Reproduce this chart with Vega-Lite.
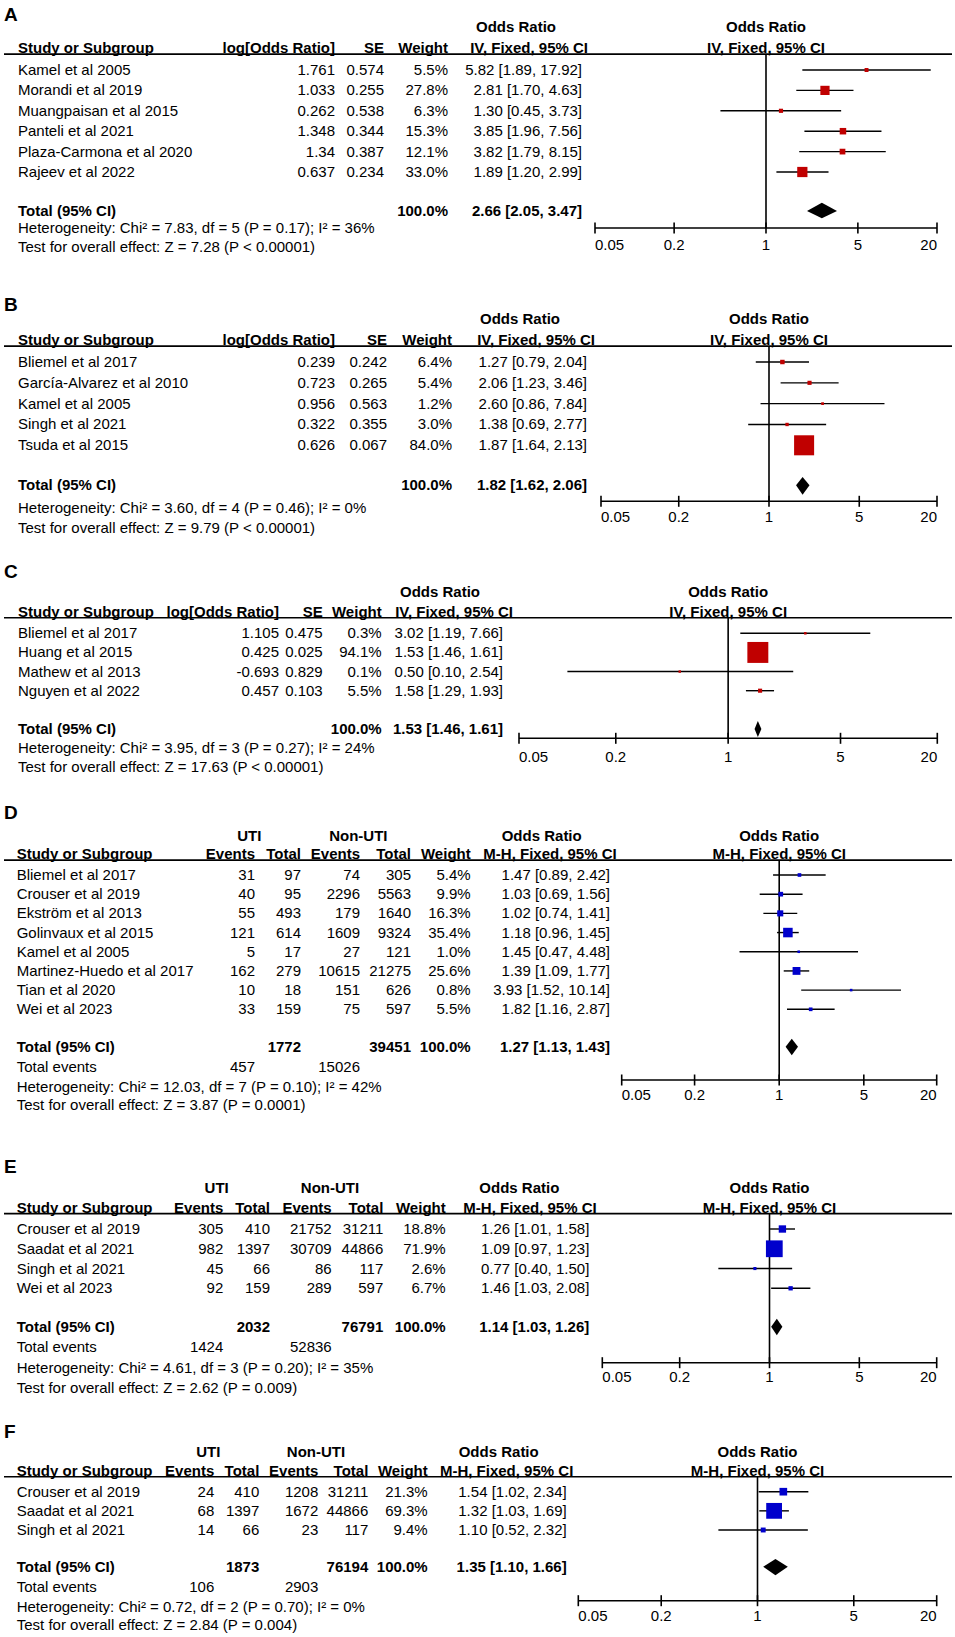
{
"$schema": "https://vega.github.io/schema/vega-lite/v6.json",
"padding": 0,
"spacing": 0,
"bounds": "flush",
"background": "white",
"config": {"view": {"stroke": null}, "mark": {"color": "#000"}, "rule": {"color": "#000"}, "area": {"color": "#000"}, "text": {"font": "Liberation Sans", "fontSize": 15, "baseline": "middle", "color": "#000"}},
"resolve": {"scale": {"size": "independent"}},
"datasets": {
"ticks": [{"v":0.05,"l":"0.05"},{"v":0.2,"l":"0.2"},{"v":1,"l":"1"},{"v":5,"l":"5"},{"v":20,"l":"20"}],
"fhead": [
{"p":"A","r":-1,"t":"Odds Ratio"},{"p":"A","r":0,"t":"IV, Fixed, 95% CI"},
{"p":"B","r":-1,"t":"Odds Ratio"},{"p":"B","r":0,"t":"IV, Fixed, 95% CI"},
{"p":"C","r":-1,"t":"Odds Ratio"},{"p":"C","r":0,"t":"IV, Fixed, 95% CI"},
{"p":"D","r":-1,"t":"Odds Ratio"},{"p":"D","r":0,"t":"M-H, Fixed, 95% CI"},
{"p":"E","r":-1,"t":"Odds Ratio"},{"p":"E","r":0,"t":"M-H, Fixed, 95% CI"},
{"p":"F","r":-1,"t":"Odds Ratio"},{"p":"F","r":0,"t":"M-H, Fixed, 95% CI"}
],
"studies": [
{"p":"A","r":1,"or":5.82,"lo":1.89,"hi":17.92,"w":5.5},
{"p":"A","r":2,"or":2.81,"lo":1.70,"hi":4.63,"w":27.8},
{"p":"A","r":3,"or":1.30,"lo":0.45,"hi":3.73,"w":6.3},
{"p":"A","r":4,"or":3.85,"lo":1.96,"hi":7.56,"w":15.3},
{"p":"A","r":5,"or":3.82,"lo":1.79,"hi":8.15,"w":12.1},
{"p":"A","r":6,"or":1.89,"lo":1.20,"hi":2.99,"w":33.0},
{"p":"B","r":1,"or":1.27,"lo":0.79,"hi":2.04,"w":6.4},
{"p":"B","r":2,"or":2.06,"lo":1.23,"hi":3.46,"w":5.4},
{"p":"B","r":3,"or":2.60,"lo":0.86,"hi":7.84,"w":1.2},
{"p":"B","r":4,"or":1.38,"lo":0.69,"hi":2.77,"w":3.0},
{"p":"B","r":5,"or":1.87,"lo":1.64,"hi":2.13,"w":84.0},
{"p":"C","r":1,"or":3.02,"lo":1.19,"hi":7.66,"w":0.3},
{"p":"C","r":2,"or":1.53,"lo":1.46,"hi":1.61,"w":94.1},
{"p":"C","r":3,"or":0.50,"lo":0.10,"hi":2.54,"w":0.1},
{"p":"C","r":4,"or":1.58,"lo":1.29,"hi":1.93,"w":5.5},
{"p":"D","r":1,"or":1.47,"lo":0.89,"hi":2.42,"w":5.4},
{"p":"D","r":2,"or":1.03,"lo":0.69,"hi":1.56,"w":9.9},
{"p":"D","r":3,"or":1.02,"lo":0.74,"hi":1.41,"w":16.3},
{"p":"D","r":4,"or":1.18,"lo":0.96,"hi":1.45,"w":35.4},
{"p":"D","r":5,"or":1.45,"lo":0.47,"hi":4.48,"w":1.0},
{"p":"D","r":6,"or":1.39,"lo":1.09,"hi":1.77,"w":25.6},
{"p":"D","r":7,"or":3.93,"lo":1.52,"hi":10.14,"w":0.8},
{"p":"D","r":8,"or":1.82,"lo":1.16,"hi":2.87,"w":5.5},
{"p":"E","r":1,"or":1.26,"lo":1.01,"hi":1.58,"w":18.8},
{"p":"E","r":2,"or":1.09,"lo":0.97,"hi":1.23,"w":71.9},
{"p":"E","r":3,"or":0.77,"lo":0.40,"hi":1.50,"w":2.6},
{"p":"E","r":4,"or":1.46,"lo":1.03,"hi":2.08,"w":6.7},
{"p":"F","r":1,"or":1.54,"lo":1.02,"hi":2.34,"w":21.3},
{"p":"F","r":2,"or":1.32,"lo":1.03,"hi":1.69,"w":69.3},
{"p":"F","r":3,"or":1.10,"lo":0.52,"hi":2.32,"w":9.4}
],
"totals": [
{"p":"A","r":8,"or":2.66,"lo":2.05,"hi":3.47},
{"p":"B","r":7,"or":1.82,"lo":1.62,"hi":2.06},
{"p":"C","r":6,"or":1.53,"lo":1.46,"hi":1.61},
{"p":"D","r":10,"or":1.27,"lo":1.13,"hi":1.43},
{"p":"E","r":6,"or":1.14,"lo":1.03,"hi":1.26},
{"p":"F","r":5,"or":1.35,"lo":1.10,"hi":1.66}
],
"cells": [
{"p":"A","r":-2,"c":-1,"t":"A","s":"letter"},
{"p":"A","r":-1,"c":4,"t":"Odds Ratio","s":"h"},
{"p":"A","r":0,"c":0,"t":"Study or Subgroup","s":"h"},
{"p":"A","r":0,"c":1,"t":"log[Odds Ratio]","s":"h"},
{"p":"A","r":0,"c":2,"t":"SE","s":"h"},
{"p":"A","r":0,"c":3,"t":"Weight","s":"h"},
{"p":"A","r":0,"c":6,"t":"IV, Fixed, 95% CI","s":"h"},
{"p":"A","r":1,"c":0,"t":"Kamel et al 2005","s":"d"},
{"p":"A","r":1,"c":1,"t":"1.761","s":"d"},
{"p":"A","r":1,"c":2,"t":"0.574","s":"d"},
{"p":"A","r":1,"c":3,"t":"5.5%","s":"d"},
{"p":"A","r":1,"c":5,"t":"5.82 [1.89, 17.92]","s":"d"},
{"p":"A","r":2,"c":0,"t":"Morandi et al 2019","s":"d"},
{"p":"A","r":2,"c":1,"t":"1.033","s":"d"},
{"p":"A","r":2,"c":2,"t":"0.255","s":"d"},
{"p":"A","r":2,"c":3,"t":"27.8%","s":"d"},
{"p":"A","r":2,"c":5,"t":"2.81 [1.70, 4.63]","s":"d"},
{"p":"A","r":3,"c":0,"t":"Muangpaisan et al 2015","s":"d"},
{"p":"A","r":3,"c":1,"t":"0.262","s":"d"},
{"p":"A","r":3,"c":2,"t":"0.538","s":"d"},
{"p":"A","r":3,"c":3,"t":"6.3%","s":"d"},
{"p":"A","r":3,"c":5,"t":"1.30 [0.45, 3.73]","s":"d"},
{"p":"A","r":4,"c":0,"t":"Panteli et al 2021","s":"d"},
{"p":"A","r":4,"c":1,"t":"1.348","s":"d"},
{"p":"A","r":4,"c":2,"t":"0.344","s":"d"},
{"p":"A","r":4,"c":3,"t":"15.3%","s":"d"},
{"p":"A","r":4,"c":5,"t":"3.85 [1.96, 7.56]","s":"d"},
{"p":"A","r":5,"c":0,"t":"Plaza-Carmona et al 2020","s":"d"},
{"p":"A","r":5,"c":1,"t":"1.34","s":"d"},
{"p":"A","r":5,"c":2,"t":"0.387","s":"d"},
{"p":"A","r":5,"c":3,"t":"12.1%","s":"d"},
{"p":"A","r":5,"c":5,"t":"3.82 [1.79, 8.15]","s":"d"},
{"p":"A","r":6,"c":0,"t":"Rajeev et al 2022","s":"d"},
{"p":"A","r":6,"c":1,"t":"0.637","s":"d"},
{"p":"A","r":6,"c":2,"t":"0.234","s":"d"},
{"p":"A","r":6,"c":3,"t":"33.0%","s":"d"},
{"p":"A","r":6,"c":5,"t":"1.89 [1.20, 2.99]","s":"d"},
{"p":"A","r":8,"c":0,"t":"Total (95% CI)","s":"t"},
{"p":"A","r":8,"c":3,"t":"100.0%","s":"t"},
{"p":"A","r":8,"c":5,"t":"2.66 [2.05, 3.47]","s":"t"},
{"p":"A","r":9,"c":0,"t":"Heterogeneity: Chi² = 7.83, df = 5 (P = 0.17); I² = 36%","s":"f"},
{"p":"A","r":10,"c":0,"t":"Test for overall effect: Z = 7.28 (P < 0.00001)","s":"f"},
{"p":"B","r":-2,"c":-1,"t":"B","s":"letter"},
{"p":"B","r":-1,"c":4,"t":"Odds Ratio","s":"h"},
{"p":"B","r":0,"c":0,"t":"Study or Subgroup","s":"h"},
{"p":"B","r":0,"c":1,"t":"log[Odds Ratio]","s":"h"},
{"p":"B","r":0,"c":2,"t":"SE","s":"h"},
{"p":"B","r":0,"c":3,"t":"Weight","s":"h"},
{"p":"B","r":0,"c":6,"t":"IV, Fixed, 95% CI","s":"h"},
{"p":"B","r":1,"c":0,"t":"Bliemel et al 2017","s":"d"},
{"p":"B","r":1,"c":1,"t":"0.239","s":"d"},
{"p":"B","r":1,"c":2,"t":"0.242","s":"d"},
{"p":"B","r":1,"c":3,"t":"6.4%","s":"d"},
{"p":"B","r":1,"c":5,"t":"1.27 [0.79, 2.04]","s":"d"},
{"p":"B","r":2,"c":0,"t":"García-Alvarez et al 2010","s":"d"},
{"p":"B","r":2,"c":1,"t":"0.723","s":"d"},
{"p":"B","r":2,"c":2,"t":"0.265","s":"d"},
{"p":"B","r":2,"c":3,"t":"5.4%","s":"d"},
{"p":"B","r":2,"c":5,"t":"2.06 [1.23, 3.46]","s":"d"},
{"p":"B","r":3,"c":0,"t":"Kamel et al 2005","s":"d"},
{"p":"B","r":3,"c":1,"t":"0.956","s":"d"},
{"p":"B","r":3,"c":2,"t":"0.563","s":"d"},
{"p":"B","r":3,"c":3,"t":"1.2%","s":"d"},
{"p":"B","r":3,"c":5,"t":"2.60 [0.86, 7.84]","s":"d"},
{"p":"B","r":4,"c":0,"t":"Singh et al 2021","s":"d"},
{"p":"B","r":4,"c":1,"t":"0.322","s":"d"},
{"p":"B","r":4,"c":2,"t":"0.355","s":"d"},
{"p":"B","r":4,"c":3,"t":"3.0%","s":"d"},
{"p":"B","r":4,"c":5,"t":"1.38 [0.69, 2.77]","s":"d"},
{"p":"B","r":5,"c":0,"t":"Tsuda et al 2015","s":"d"},
{"p":"B","r":5,"c":1,"t":"0.626","s":"d"},
{"p":"B","r":5,"c":2,"t":"0.067","s":"d"},
{"p":"B","r":5,"c":3,"t":"84.0%","s":"d"},
{"p":"B","r":5,"c":5,"t":"1.87 [1.64, 2.13]","s":"d"},
{"p":"B","r":7,"c":0,"t":"Total (95% CI)","s":"t"},
{"p":"B","r":7,"c":3,"t":"100.0%","s":"t"},
{"p":"B","r":7,"c":5,"t":"1.82 [1.62, 2.06]","s":"t"},
{"p":"B","r":8,"c":0,"t":"Heterogeneity: Chi² = 3.60, df = 4 (P = 0.46); I² = 0%","s":"f"},
{"p":"B","r":9,"c":0,"t":"Test for overall effect: Z = 9.79 (P < 0.00001)","s":"f"},
{"p":"C","r":-2,"c":-1,"t":"C","s":"letter"},
{"p":"C","r":-1,"c":4,"t":"Odds Ratio","s":"h"},
{"p":"C","r":0,"c":0,"t":"Study or Subgroup","s":"h"},
{"p":"C","r":0,"c":1,"t":"log[Odds Ratio]","s":"h"},
{"p":"C","r":0,"c":2,"t":"SE","s":"h"},
{"p":"C","r":0,"c":3,"t":"Weight","s":"h"},
{"p":"C","r":0,"c":6,"t":"IV, Fixed, 95% CI","s":"h"},
{"p":"C","r":1,"c":0,"t":"Bliemel et al 2017","s":"d"},
{"p":"C","r":1,"c":1,"t":"1.105","s":"d"},
{"p":"C","r":1,"c":2,"t":"0.475","s":"d"},
{"p":"C","r":1,"c":3,"t":"0.3%","s":"d"},
{"p":"C","r":1,"c":5,"t":"3.02 [1.19, 7.66]","s":"d"},
{"p":"C","r":2,"c":0,"t":"Huang et al 2015","s":"d"},
{"p":"C","r":2,"c":1,"t":"0.425","s":"d"},
{"p":"C","r":2,"c":2,"t":"0.025","s":"d"},
{"p":"C","r":2,"c":3,"t":"94.1%","s":"d"},
{"p":"C","r":2,"c":5,"t":"1.53 [1.46, 1.61]","s":"d"},
{"p":"C","r":3,"c":0,"t":"Mathew et al 2013","s":"d"},
{"p":"C","r":3,"c":1,"t":"-0.693","s":"d"},
{"p":"C","r":3,"c":2,"t":"0.829","s":"d"},
{"p":"C","r":3,"c":3,"t":"0.1%","s":"d"},
{"p":"C","r":3,"c":5,"t":"0.50 [0.10, 2.54]","s":"d"},
{"p":"C","r":4,"c":0,"t":"Nguyen et al 2022","s":"d"},
{"p":"C","r":4,"c":1,"t":"0.457","s":"d"},
{"p":"C","r":4,"c":2,"t":"0.103","s":"d"},
{"p":"C","r":4,"c":3,"t":"5.5%","s":"d"},
{"p":"C","r":4,"c":5,"t":"1.58 [1.29, 1.93]","s":"d"},
{"p":"C","r":6,"c":0,"t":"Total (95% CI)","s":"t"},
{"p":"C","r":6,"c":3,"t":"100.0%","s":"t"},
{"p":"C","r":6,"c":5,"t":"1.53 [1.46, 1.61]","s":"t"},
{"p":"C","r":7,"c":0,"t":"Heterogeneity: Chi² = 3.95, df = 3 (P = 0.27); I² = 24%","s":"f"},
{"p":"C","r":8,"c":0,"t":"Test for overall effect: Z = 17.63 (P < 0.00001)","s":"f"},
{"p":"D","r":-2,"c":-1,"t":"D","s":"letter"},
{"p":"D","r":-1,"c":1,"t":"UTI","s":"h"},
{"p":"D","r":-1,"c":4,"t":"Non-UTI","s":"h"},
{"p":"D","r":-1,"c":8,"t":"Odds Ratio","s":"h"},
{"p":"D","r":0,"c":0,"t":"Study or Subgroup","s":"h"},
{"p":"D","r":0,"c":2,"t":"Events","s":"h"},
{"p":"D","r":0,"c":3,"t":"Total","s":"h"},
{"p":"D","r":0,"c":5,"t":"Events","s":"h"},
{"p":"D","r":0,"c":6,"t":"Total","s":"h"},
{"p":"D","r":0,"c":7,"t":"Weight","s":"h"},
{"p":"D","r":0,"c":10,"t":"M-H, Fixed, 95% CI","s":"h"},
{"p":"D","r":1,"c":0,"t":"Bliemel et al 2017","s":"d"},
{"p":"D","r":1,"c":2,"t":"31","s":"d"},
{"p":"D","r":1,"c":3,"t":"97","s":"d"},
{"p":"D","r":1,"c":5,"t":"74","s":"d"},
{"p":"D","r":1,"c":6,"t":"305","s":"d"},
{"p":"D","r":1,"c":7,"t":"5.4%","s":"d"},
{"p":"D","r":1,"c":9,"t":"1.47 [0.89, 2.42]","s":"d"},
{"p":"D","r":2,"c":0,"t":"Crouser et al 2019","s":"d"},
{"p":"D","r":2,"c":2,"t":"40","s":"d"},
{"p":"D","r":2,"c":3,"t":"95","s":"d"},
{"p":"D","r":2,"c":5,"t":"2296","s":"d"},
{"p":"D","r":2,"c":6,"t":"5563","s":"d"},
{"p":"D","r":2,"c":7,"t":"9.9%","s":"d"},
{"p":"D","r":2,"c":9,"t":"1.03 [0.69, 1.56]","s":"d"},
{"p":"D","r":3,"c":0,"t":"Ekström et al 2013","s":"d"},
{"p":"D","r":3,"c":2,"t":"55","s":"d"},
{"p":"D","r":3,"c":3,"t":"493","s":"d"},
{"p":"D","r":3,"c":5,"t":"179","s":"d"},
{"p":"D","r":3,"c":6,"t":"1640","s":"d"},
{"p":"D","r":3,"c":7,"t":"16.3%","s":"d"},
{"p":"D","r":3,"c":9,"t":"1.02 [0.74, 1.41]","s":"d"},
{"p":"D","r":4,"c":0,"t":"Golinvaux et al 2015","s":"d"},
{"p":"D","r":4,"c":2,"t":"121","s":"d"},
{"p":"D","r":4,"c":3,"t":"614","s":"d"},
{"p":"D","r":4,"c":5,"t":"1609","s":"d"},
{"p":"D","r":4,"c":6,"t":"9324","s":"d"},
{"p":"D","r":4,"c":7,"t":"35.4%","s":"d"},
{"p":"D","r":4,"c":9,"t":"1.18 [0.96, 1.45]","s":"d"},
{"p":"D","r":5,"c":0,"t":"Kamel et al 2005","s":"d"},
{"p":"D","r":5,"c":2,"t":"5","s":"d"},
{"p":"D","r":5,"c":3,"t":"17","s":"d"},
{"p":"D","r":5,"c":5,"t":"27","s":"d"},
{"p":"D","r":5,"c":6,"t":"121","s":"d"},
{"p":"D","r":5,"c":7,"t":"1.0%","s":"d"},
{"p":"D","r":5,"c":9,"t":"1.45 [0.47, 4.48]","s":"d"},
{"p":"D","r":6,"c":0,"t":"Martinez-Huedo et al 2017","s":"d"},
{"p":"D","r":6,"c":2,"t":"162","s":"d"},
{"p":"D","r":6,"c":3,"t":"279","s":"d"},
{"p":"D","r":6,"c":5,"t":"10615","s":"d"},
{"p":"D","r":6,"c":6,"t":"21275","s":"d"},
{"p":"D","r":6,"c":7,"t":"25.6%","s":"d"},
{"p":"D","r":6,"c":9,"t":"1.39 [1.09, 1.77]","s":"d"},
{"p":"D","r":7,"c":0,"t":"Tian et al 2020","s":"d"},
{"p":"D","r":7,"c":2,"t":"10","s":"d"},
{"p":"D","r":7,"c":3,"t":"18","s":"d"},
{"p":"D","r":7,"c":5,"t":"151","s":"d"},
{"p":"D","r":7,"c":6,"t":"626","s":"d"},
{"p":"D","r":7,"c":7,"t":"0.8%","s":"d"},
{"p":"D","r":7,"c":9,"t":"3.93 [1.52, 10.14]","s":"d"},
{"p":"D","r":8,"c":0,"t":"Wei et al 2023","s":"d"},
{"p":"D","r":8,"c":2,"t":"33","s":"d"},
{"p":"D","r":8,"c":3,"t":"159","s":"d"},
{"p":"D","r":8,"c":5,"t":"75","s":"d"},
{"p":"D","r":8,"c":6,"t":"597","s":"d"},
{"p":"D","r":8,"c":7,"t":"5.5%","s":"d"},
{"p":"D","r":8,"c":9,"t":"1.82 [1.16, 2.87]","s":"d"},
{"p":"D","r":10,"c":0,"t":"Total (95% CI)","s":"t"},
{"p":"D","r":10,"c":3,"t":"1772","s":"t"},
{"p":"D","r":10,"c":6,"t":"39451","s":"t"},
{"p":"D","r":10,"c":7,"t":"100.0%","s":"t"},
{"p":"D","r":10,"c":9,"t":"1.27 [1.13, 1.43]","s":"t"},
{"p":"D","r":11,"c":0,"t":"Total events","s":"f"},
{"p":"D","r":11,"c":2,"t":"457","s":"f"},
{"p":"D","r":11,"c":5,"t":"15026","s":"f"},
{"p":"D","r":12,"c":0,"t":"Heterogeneity: Chi² = 12.03, df = 7 (P = 0.10); I² = 42%","s":"f"},
{"p":"D","r":13,"c":0,"t":"Test for overall effect: Z = 3.87 (P = 0.0001)","s":"f"},
{"p":"E","r":-2,"c":-1,"t":"E","s":"letter"},
{"p":"E","r":-1,"c":1,"t":"UTI","s":"h"},
{"p":"E","r":-1,"c":4,"t":"Non-UTI","s":"h"},
{"p":"E","r":-1,"c":8,"t":"Odds Ratio","s":"h"},
{"p":"E","r":0,"c":0,"t":"Study or Subgroup","s":"h"},
{"p":"E","r":0,"c":2,"t":"Events","s":"h"},
{"p":"E","r":0,"c":3,"t":"Total","s":"h"},
{"p":"E","r":0,"c":5,"t":"Events","s":"h"},
{"p":"E","r":0,"c":6,"t":"Total","s":"h"},
{"p":"E","r":0,"c":7,"t":"Weight","s":"h"},
{"p":"E","r":0,"c":10,"t":"M-H, Fixed, 95% CI","s":"h"},
{"p":"E","r":1,"c":0,"t":"Crouser et al 2019","s":"d"},
{"p":"E","r":1,"c":2,"t":"305","s":"d"},
{"p":"E","r":1,"c":3,"t":"410","s":"d"},
{"p":"E","r":1,"c":5,"t":"21752","s":"d"},
{"p":"E","r":1,"c":6,"t":"31211","s":"d"},
{"p":"E","r":1,"c":7,"t":"18.8%","s":"d"},
{"p":"E","r":1,"c":9,"t":"1.26 [1.01, 1.58]","s":"d"},
{"p":"E","r":2,"c":0,"t":"Saadat et al 2021","s":"d"},
{"p":"E","r":2,"c":2,"t":"982","s":"d"},
{"p":"E","r":2,"c":3,"t":"1397","s":"d"},
{"p":"E","r":2,"c":5,"t":"30709","s":"d"},
{"p":"E","r":2,"c":6,"t":"44866","s":"d"},
{"p":"E","r":2,"c":7,"t":"71.9%","s":"d"},
{"p":"E","r":2,"c":9,"t":"1.09 [0.97, 1.23]","s":"d"},
{"p":"E","r":3,"c":0,"t":"Singh et al 2021","s":"d"},
{"p":"E","r":3,"c":2,"t":"45","s":"d"},
{"p":"E","r":3,"c":3,"t":"66","s":"d"},
{"p":"E","r":3,"c":5,"t":"86","s":"d"},
{"p":"E","r":3,"c":6,"t":"117","s":"d"},
{"p":"E","r":3,"c":7,"t":"2.6%","s":"d"},
{"p":"E","r":3,"c":9,"t":"0.77 [0.40, 1.50]","s":"d"},
{"p":"E","r":4,"c":0,"t":"Wei et al 2023","s":"d"},
{"p":"E","r":4,"c":2,"t":"92","s":"d"},
{"p":"E","r":4,"c":3,"t":"159","s":"d"},
{"p":"E","r":4,"c":5,"t":"289","s":"d"},
{"p":"E","r":4,"c":6,"t":"597","s":"d"},
{"p":"E","r":4,"c":7,"t":"6.7%","s":"d"},
{"p":"E","r":4,"c":9,"t":"1.46 [1.03, 2.08]","s":"d"},
{"p":"E","r":6,"c":0,"t":"Total (95% CI)","s":"t"},
{"p":"E","r":6,"c":3,"t":"2032","s":"t"},
{"p":"E","r":6,"c":6,"t":"76791","s":"t"},
{"p":"E","r":6,"c":7,"t":"100.0%","s":"t"},
{"p":"E","r":6,"c":9,"t":"1.14 [1.03, 1.26]","s":"t"},
{"p":"E","r":7,"c":0,"t":"Total events","s":"f"},
{"p":"E","r":7,"c":2,"t":"1424","s":"f"},
{"p":"E","r":7,"c":5,"t":"52836","s":"f"},
{"p":"E","r":8,"c":0,"t":"Heterogeneity: Chi² = 4.61, df = 3 (P = 0.20); I² = 35%","s":"f"},
{"p":"E","r":9,"c":0,"t":"Test for overall effect: Z = 2.62 (P = 0.009)","s":"f"},
{"p":"F","r":-2,"c":-1,"t":"F","s":"letter"},
{"p":"F","r":-1,"c":1,"t":"UTI","s":"h"},
{"p":"F","r":-1,"c":4,"t":"Non-UTI","s":"h"},
{"p":"F","r":-1,"c":8,"t":"Odds Ratio","s":"h"},
{"p":"F","r":0,"c":0,"t":"Study or Subgroup","s":"h"},
{"p":"F","r":0,"c":2,"t":"Events","s":"h"},
{"p":"F","r":0,"c":3,"t":"Total","s":"h"},
{"p":"F","r":0,"c":5,"t":"Events","s":"h"},
{"p":"F","r":0,"c":6,"t":"Total","s":"h"},
{"p":"F","r":0,"c":7,"t":"Weight","s":"h"},
{"p":"F","r":0,"c":10,"t":"M-H, Fixed, 95% CI","s":"h"},
{"p":"F","r":1,"c":0,"t":"Crouser et al 2019","s":"d"},
{"p":"F","r":1,"c":2,"t":"24","s":"d"},
{"p":"F","r":1,"c":3,"t":"410","s":"d"},
{"p":"F","r":1,"c":5,"t":"1208","s":"d"},
{"p":"F","r":1,"c":6,"t":"31211","s":"d"},
{"p":"F","r":1,"c":7,"t":"21.3%","s":"d"},
{"p":"F","r":1,"c":9,"t":"1.54 [1.02, 2.34]","s":"d"},
{"p":"F","r":2,"c":0,"t":"Saadat et al 2021","s":"d"},
{"p":"F","r":2,"c":2,"t":"68","s":"d"},
{"p":"F","r":2,"c":3,"t":"1397","s":"d"},
{"p":"F","r":2,"c":5,"t":"1672","s":"d"},
{"p":"F","r":2,"c":6,"t":"44866","s":"d"},
{"p":"F","r":2,"c":7,"t":"69.3%","s":"d"},
{"p":"F","r":2,"c":9,"t":"1.32 [1.03, 1.69]","s":"d"},
{"p":"F","r":3,"c":0,"t":"Singh et al 2021","s":"d"},
{"p":"F","r":3,"c":2,"t":"14","s":"d"},
{"p":"F","r":3,"c":3,"t":"66","s":"d"},
{"p":"F","r":3,"c":5,"t":"23","s":"d"},
{"p":"F","r":3,"c":6,"t":"117","s":"d"},
{"p":"F","r":3,"c":7,"t":"9.4%","s":"d"},
{"p":"F","r":3,"c":9,"t":"1.10 [0.52, 2.32]","s":"d"},
{"p":"F","r":5,"c":0,"t":"Total (95% CI)","s":"t"},
{"p":"F","r":5,"c":3,"t":"1873","s":"t"},
{"p":"F","r":5,"c":6,"t":"76194","s":"t"},
{"p":"F","r":5,"c":7,"t":"100.0%","s":"t"},
{"p":"F","r":5,"c":9,"t":"1.35 [1.10, 1.66]","s":"t"},
{"p":"F","r":6,"c":0,"t":"Total events","s":"f"},
{"p":"F","r":6,"c":2,"t":"106","s":"f"},
{"p":"F","r":6,"c":5,"t":"2903","s":"f"},
{"p":"F","r":7,"c":0,"t":"Heterogeneity: Chi² = 0.72, df = 2 (P = 0.70); I² = 0%","s":"f"},
{"p":"F","r":8,"c":0,"t":"Test for overall effect: Z = 2.84 (P = 0.004)","s":"f"}
]
},
"vconcat": [
{
"width": 955, "height": 262,
"resolve": {"scale": {"x": "independent"}},
"layer": [
{"data": {"name": "cells"}, "transform": [{"filter": "datum.p=='A'"}],
 "encoding": {"x": {"field": "c", "type": "quantitative", "axis": null, "scale": {"domain": [-1,0,1,2,3,4,5,6,7], "range": [4,18,335,384,448,516,582,588,952], "zero": false, "nice": false}}, "y": {"field": "r", "type": "quantitative", "axis": null, "scale": {"domain": [-2,-1,0,1,6,8,9,10,50,51], "range": [15,27,48,70,172,211,228,247,228,245], "zero": false, "nice": false}}, "text": {"field": "t"}},
 "layer": [
  {"transform": [{"filter": "datum.s=='letter'"}], "mark": {"type": "text", "align": "left", "fontWeight": "bold", "fontSize": 19}},
  {"transform": [{"filter": "datum.c==0 && (datum.s=='d' || datum.s=='f')"}], "mark": {"type": "text", "align": "left"}},
  {"transform": [{"filter": "datum.c==0 && (datum.s=='h' || datum.s=='t')"}], "mark": {"type": "text", "align": "left", "fontWeight": "bold"}},
  {"transform": [{"filter": "datum.c>0 && datum.c!=4 && (datum.s=='d' || datum.s=='f')"}], "mark": {"type": "text", "align": "right"}},
  {"transform": [{"filter": "datum.c>0 && datum.c!=4 && (datum.s=='h' || datum.s=='t')"}], "mark": {"type": "text", "align": "right", "fontWeight": "bold"}},
  {"transform": [{"filter": "datum.c==4"}], "mark": {"type": "text", "align": "center", "fontWeight": "bold"}}
 ]},
{"data": {"values": [{}]}, "mark": {"type": "rule", "strokeWidth": 1.6}, "encoding": {"x": {"datum": -1, "type": "quantitative", "axis": null, "scale": {"domain": [-1,0,1,2,3,4,5,6,7], "range": [4,18,335,384,448,516,582,588,952], "zero": false, "nice": false}}, "x2": {"datum": 7}, "y": {"datum": 0.28, "type": "quantitative", "axis": null}}},
{"layer": [
  {"data": {"values": [{}]}, "mark": {"type": "rule", "strokeWidth": 1.6}, "encoding": {"x": {"datum": 1, "type": "quantitative", "axis": null, "scale": {"type": "log", "domain": [0.05, 20], "range": [595, 937], "nice": false}}, "y": {"datum": 0.28, "type": "quantitative", "axis": null}, "y2": {"datum": 50}}},
  {"data": {"name": "studies"}, "transform": [{"filter": "datum.p=='A'"}], "mark": {"type": "rule", "strokeWidth": 1.4}, "encoding": {"x": {"field": "lo", "type": "quantitative", "axis": null, "scale": {"type": "log", "domain": [0.05, 20], "range": [595, 937], "nice": false}}, "x2": {"field": "hi"}, "y": {"field": "r", "type": "quantitative", "axis": null}}},
  {"data": {"name": "studies"}, "transform": [{"filter": "datum.p=='A'"}], "mark": {"type": "point", "shape": "square", "filled": true, "opacity": 1, "color": "#c00000"}, "encoding": {"x": {"field": "or", "type": "quantitative", "axis": null, "scale": {"type": "log", "domain": [0.05, 20], "range": [595, 937], "nice": false}}, "y": {"field": "r", "type": "quantitative", "axis": null}, "size": {"field": "w", "type": "quantitative", "legend": null, "scale": {"type": "pow", "exponent": 1.3, "domain": [0, 100], "range": [6, 423]}}}},
  {"data": {"name": "totals"}, "transform": [{"filter": "datum.p=='A'"}, {"fold": ["lo", "or", "hi"]}, {"calculate": "datum.r - (datum.key=='or' ? 0.42 : 0)", "as": "ya"}, {"calculate": "datum.r + (datum.key=='or' ? 0.42 : 0)", "as": "yb"}], "mark": {"type": "area", "opacity": 1}, "encoding": {"x": {"field": "value", "type": "quantitative", "axis": null, "scale": {"type": "log", "domain": [0.05, 20], "range": [595, 937], "nice": false}}, "y": {"field": "ya", "type": "quantitative", "axis": null}, "y2": {"field": "yb"}}},
  {"data": {"values": [{}]}, "mark": {"type": "rule", "strokeWidth": 1.6}, "encoding": {"x": {"datum": 0.05, "type": "quantitative", "axis": null, "scale": {"type": "log", "domain": [0.05, 20], "range": [595, 937], "nice": false}}, "x2": {"datum": 20}, "y": {"datum": 50, "type": "quantitative", "axis": null}}},
  {"data": {"name": "ticks"}, "mark": {"type": "tick", "orient": "vertical", "size": 11, "thickness": 1.6, "opacity": 1}, "encoding": {"x": {"field": "v", "type": "quantitative", "axis": null, "scale": {"type": "log", "domain": [0.05, 20], "range": [595, 937], "nice": false}}, "y": {"datum": 50, "type": "quantitative", "axis": null}}},
  {"data": {"name": "ticks"}, "transform": [{"filter": "datum.v==0.05"}], "mark": {"type": "text", "align": "left"}, "encoding": {"x": {"field": "v", "type": "quantitative", "axis": null, "scale": {"type": "log", "domain": [0.05, 20], "range": [595, 937], "nice": false}}, "y": {"datum": 51, "type": "quantitative", "axis": null}, "text": {"field": "l"}}},
  {"data": {"name": "ticks"}, "transform": [{"filter": "datum.v>0.05 && datum.v<20"}], "mark": {"type": "text", "align": "center"}, "encoding": {"x": {"field": "v", "type": "quantitative", "axis": null, "scale": {"type": "log", "domain": [0.05, 20], "range": [595, 937], "nice": false}}, "y": {"datum": 51, "type": "quantitative", "axis": null}, "text": {"field": "l"}}},
  {"data": {"name": "ticks"}, "transform": [{"filter": "datum.v==20"}], "mark": {"type": "text", "align": "right"}, "encoding": {"x": {"field": "v", "type": "quantitative", "axis": null, "scale": {"type": "log", "domain": [0.05, 20], "range": [595, 937], "nice": false}}, "y": {"datum": 51, "type": "quantitative", "axis": null}, "text": {"field": "l"}}},
  {"data": {"name": "fhead"}, "transform": [{"filter": "datum.p=='A'"}], "mark": {"type": "text", "align": "center", "fontWeight": "bold"}, "encoding": {"x": {"datum": 1, "type": "quantitative", "axis": null, "scale": {"type": "log", "domain": [0.05, 20], "range": [595, 937], "nice": false}}, "y": {"field": "r", "type": "quantitative", "axis": null}, "text": {"field": "t"}}}
 ]}
]
},
{
"width": 955, "height": 275,
"resolve": {"scale": {"x": "independent"}},
"layer": [
{"data": {"name": "cells"}, "transform": [{"filter": "datum.p=='B'"}],
 "encoding": {"x": {"field": "c", "type": "quantitative", "axis": null, "scale": {"domain": [-1,0,1,2,3,4,5,6,7], "range": [4,18,335,387,452,520,587,595,952], "zero": false, "nice": false}}, "y": {"field": "r", "type": "quantitative", "axis": null, "scale": {"domain": [-2,-1,0,1,5,7,8,9,50,51], "range": [43,57,78,100,183.3,223.3,246,266.3,239.3,255], "zero": false, "nice": false}}, "text": {"field": "t"}},
 "layer": [
  {"transform": [{"filter": "datum.s=='letter'"}], "mark": {"type": "text", "align": "left", "fontWeight": "bold", "fontSize": 19}},
  {"transform": [{"filter": "datum.c==0 && (datum.s=='d' || datum.s=='f')"}], "mark": {"type": "text", "align": "left"}},
  {"transform": [{"filter": "datum.c==0 && (datum.s=='h' || datum.s=='t')"}], "mark": {"type": "text", "align": "left", "fontWeight": "bold"}},
  {"transform": [{"filter": "datum.c>0 && datum.c!=4 && (datum.s=='d' || datum.s=='f')"}], "mark": {"type": "text", "align": "right"}},
  {"transform": [{"filter": "datum.c>0 && datum.c!=4 && (datum.s=='h' || datum.s=='t')"}], "mark": {"type": "text", "align": "right", "fontWeight": "bold"}},
  {"transform": [{"filter": "datum.c==4"}], "mark": {"type": "text", "align": "center", "fontWeight": "bold"}}
 ]},
{"data": {"values": [{}]}, "mark": {"type": "rule", "strokeWidth": 1.6}, "encoding": {"x": {"datum": -1, "type": "quantitative", "axis": null, "scale": {"domain": [-1,0,1,2,3,4,5,6,7], "range": [4,18,335,387,452,520,587,595,952], "zero": false, "nice": false}}, "x2": {"datum": 7}, "y": {"datum": 0.28, "type": "quantitative", "axis": null}}},
{"layer": [
  {"data": {"values": [{}]}, "mark": {"type": "rule", "strokeWidth": 1.6}, "encoding": {"x": {"datum": 1, "type": "quantitative", "axis": null, "scale": {"type": "log", "domain": [0.05, 20], "range": [601, 937], "nice": false}}, "y": {"datum": 0.28, "type": "quantitative", "axis": null}, "y2": {"datum": 50}}},
  {"data": {"name": "studies"}, "transform": [{"filter": "datum.p=='B'"}], "mark": {"type": "rule", "strokeWidth": 1.4}, "encoding": {"x": {"field": "lo", "type": "quantitative", "axis": null, "scale": {"type": "log", "domain": [0.05, 20], "range": [601, 937], "nice": false}}, "x2": {"field": "hi"}, "y": {"field": "r", "type": "quantitative", "axis": null}}},
  {"data": {"name": "studies"}, "transform": [{"filter": "datum.p=='B'"}], "mark": {"type": "point", "shape": "square", "filled": true, "opacity": 1, "color": "#c00000"}, "encoding": {"x": {"field": "or", "type": "quantitative", "axis": null, "scale": {"type": "log", "domain": [0.05, 20], "range": [601, 937], "nice": false}}, "y": {"field": "r", "type": "quantitative", "axis": null}, "size": {"field": "w", "type": "quantitative", "legend": null, "scale": {"type": "pow", "exponent": 1.3, "domain": [0, 100], "range": [6, 502]}}}},
  {"data": {"name": "totals"}, "transform": [{"filter": "datum.p=='B'"}, {"fold": ["lo", "or", "hi"]}, {"calculate": "datum.r - (datum.key=='or' ? 0.42 : 0)", "as": "ya"}, {"calculate": "datum.r + (datum.key=='or' ? 0.42 : 0)", "as": "yb"}], "mark": {"type": "area", "opacity": 1}, "encoding": {"x": {"field": "value", "type": "quantitative", "axis": null, "scale": {"type": "log", "domain": [0.05, 20], "range": [601, 937], "nice": false}}, "y": {"field": "ya", "type": "quantitative", "axis": null}, "y2": {"field": "yb"}}},
  {"data": {"values": [{}]}, "mark": {"type": "rule", "strokeWidth": 1.6}, "encoding": {"x": {"datum": 0.05, "type": "quantitative", "axis": null, "scale": {"type": "log", "domain": [0.05, 20], "range": [601, 937], "nice": false}}, "x2": {"datum": 20}, "y": {"datum": 50, "type": "quantitative", "axis": null}}},
  {"data": {"name": "ticks"}, "mark": {"type": "tick", "orient": "vertical", "size": 11, "thickness": 1.6, "opacity": 1}, "encoding": {"x": {"field": "v", "type": "quantitative", "axis": null, "scale": {"type": "log", "domain": [0.05, 20], "range": [601, 937], "nice": false}}, "y": {"datum": 50, "type": "quantitative", "axis": null}}},
  {"data": {"name": "ticks"}, "transform": [{"filter": "datum.v==0.05"}], "mark": {"type": "text", "align": "left"}, "encoding": {"x": {"field": "v", "type": "quantitative", "axis": null, "scale": {"type": "log", "domain": [0.05, 20], "range": [601, 937], "nice": false}}, "y": {"datum": 51, "type": "quantitative", "axis": null}, "text": {"field": "l"}}},
  {"data": {"name": "ticks"}, "transform": [{"filter": "datum.v>0.05 && datum.v<20"}], "mark": {"type": "text", "align": "center"}, "encoding": {"x": {"field": "v", "type": "quantitative", "axis": null, "scale": {"type": "log", "domain": [0.05, 20], "range": [601, 937], "nice": false}}, "y": {"datum": 51, "type": "quantitative", "axis": null}, "text": {"field": "l"}}},
  {"data": {"name": "ticks"}, "transform": [{"filter": "datum.v==20"}], "mark": {"type": "text", "align": "right"}, "encoding": {"x": {"field": "v", "type": "quantitative", "axis": null, "scale": {"type": "log", "domain": [0.05, 20], "range": [601, 937], "nice": false}}, "y": {"datum": 51, "type": "quantitative", "axis": null}, "text": {"field": "l"}}},
  {"data": {"name": "fhead"}, "transform": [{"filter": "datum.p=='B'"}], "mark": {"type": "text", "align": "center", "fontWeight": "bold"}, "encoding": {"x": {"datum": 1, "type": "quantitative", "axis": null, "scale": {"type": "log", "domain": [0.05, 20], "range": [601, 937], "nice": false}}, "y": {"field": "r", "type": "quantitative", "axis": null}, "text": {"field": "t"}}}
 ]}
]
},
{
"width": 955, "height": 241,
"resolve": {"scale": {"x": "independent"}},
"layer": [
{"data": {"name": "cells"}, "transform": [{"filter": "datum.p=='C'"}],
 "encoding": {"x": {"field": "c", "type": "quantitative", "axis": null, "scale": {"domain": [-1,0,1,2,3,4,5,6,7], "range": [4,18,279,322.7,381.7,440,503,513,952], "zero": false, "nice": false}}, "y": {"field": "r", "type": "quantitative", "axis": null, "scale": {"domain": [-2,-1,0,1,4,6,7,8,50,51], "range": [35,55,74.7,96.3,153.7,192,211,229.7,201.3,220], "zero": false, "nice": false}}, "text": {"field": "t"}},
 "layer": [
  {"transform": [{"filter": "datum.s=='letter'"}], "mark": {"type": "text", "align": "left", "fontWeight": "bold", "fontSize": 19}},
  {"transform": [{"filter": "datum.c==0 && (datum.s=='d' || datum.s=='f')"}], "mark": {"type": "text", "align": "left"}},
  {"transform": [{"filter": "datum.c==0 && (datum.s=='h' || datum.s=='t')"}], "mark": {"type": "text", "align": "left", "fontWeight": "bold"}},
  {"transform": [{"filter": "datum.c>0 && datum.c!=4 && (datum.s=='d' || datum.s=='f')"}], "mark": {"type": "text", "align": "right"}},
  {"transform": [{"filter": "datum.c>0 && datum.c!=4 && (datum.s=='h' || datum.s=='t')"}], "mark": {"type": "text", "align": "right", "fontWeight": "bold"}},
  {"transform": [{"filter": "datum.c==4"}], "mark": {"type": "text", "align": "center", "fontWeight": "bold"}}
 ]},
{"data": {"values": [{}]}, "mark": {"type": "rule", "strokeWidth": 1.6}, "encoding": {"x": {"datum": -1, "type": "quantitative", "axis": null, "scale": {"domain": [-1,0,1,2,3,4,5,6,7], "range": [4,18,279,322.7,381.7,440,503,513,952], "zero": false, "nice": false}}, "x2": {"datum": 7}, "y": {"datum": 0.28, "type": "quantitative", "axis": null}}},
{"layer": [
  {"data": {"values": [{}]}, "mark": {"type": "rule", "strokeWidth": 1.6}, "encoding": {"x": {"datum": 1, "type": "quantitative", "axis": null, "scale": {"type": "log", "domain": [0.05, 20], "range": [519, 937.3], "nice": false}}, "y": {"datum": 0.28, "type": "quantitative", "axis": null}, "y2": {"datum": 50}}},
  {"data": {"name": "studies"}, "transform": [{"filter": "datum.p=='C'"}], "mark": {"type": "rule", "strokeWidth": 1.4}, "encoding": {"x": {"field": "lo", "type": "quantitative", "axis": null, "scale": {"type": "log", "domain": [0.05, 20], "range": [519, 937.3], "nice": false}}, "x2": {"field": "hi"}, "y": {"field": "r", "type": "quantitative", "axis": null}}},
  {"data": {"name": "studies"}, "transform": [{"filter": "datum.p=='C'"}], "mark": {"type": "point", "shape": "square", "filled": true, "opacity": 1, "color": "#c00000"}, "encoding": {"x": {"field": "or", "type": "quantitative", "axis": null, "scale": {"type": "log", "domain": [0.05, 20], "range": [519, 937.3], "nice": false}}, "y": {"field": "r", "type": "quantitative", "axis": null}, "size": {"field": "w", "type": "quantitative", "legend": null, "scale": {"type": "pow", "exponent": 1.3, "domain": [0, 100], "range": [6, 475]}}}},
  {"data": {"name": "totals"}, "transform": [{"filter": "datum.p=='C'"}, {"fold": ["lo", "or", "hi"]}, {"calculate": "datum.r - (datum.key=='or' ? 0.42 : 0)", "as": "ya"}, {"calculate": "datum.r + (datum.key=='or' ? 0.42 : 0)", "as": "yb"}], "mark": {"type": "area", "opacity": 1}, "encoding": {"x": {"field": "value", "type": "quantitative", "axis": null, "scale": {"type": "log", "domain": [0.05, 20], "range": [519, 937.3], "nice": false}}, "y": {"field": "ya", "type": "quantitative", "axis": null}, "y2": {"field": "yb"}}},
  {"data": {"values": [{}]}, "mark": {"type": "rule", "strokeWidth": 1.6}, "encoding": {"x": {"datum": 0.05, "type": "quantitative", "axis": null, "scale": {"type": "log", "domain": [0.05, 20], "range": [519, 937.3], "nice": false}}, "x2": {"datum": 20}, "y": {"datum": 50, "type": "quantitative", "axis": null}}},
  {"data": {"name": "ticks"}, "mark": {"type": "tick", "orient": "vertical", "size": 11, "thickness": 1.6, "opacity": 1}, "encoding": {"x": {"field": "v", "type": "quantitative", "axis": null, "scale": {"type": "log", "domain": [0.05, 20], "range": [519, 937.3], "nice": false}}, "y": {"datum": 50, "type": "quantitative", "axis": null}}},
  {"data": {"name": "ticks"}, "transform": [{"filter": "datum.v==0.05"}], "mark": {"type": "text", "align": "left"}, "encoding": {"x": {"field": "v", "type": "quantitative", "axis": null, "scale": {"type": "log", "domain": [0.05, 20], "range": [519, 937.3], "nice": false}}, "y": {"datum": 51, "type": "quantitative", "axis": null}, "text": {"field": "l"}}},
  {"data": {"name": "ticks"}, "transform": [{"filter": "datum.v>0.05 && datum.v<20"}], "mark": {"type": "text", "align": "center"}, "encoding": {"x": {"field": "v", "type": "quantitative", "axis": null, "scale": {"type": "log", "domain": [0.05, 20], "range": [519, 937.3], "nice": false}}, "y": {"datum": 51, "type": "quantitative", "axis": null}, "text": {"field": "l"}}},
  {"data": {"name": "ticks"}, "transform": [{"filter": "datum.v==20"}], "mark": {"type": "text", "align": "right"}, "encoding": {"x": {"field": "v", "type": "quantitative", "axis": null, "scale": {"type": "log", "domain": [0.05, 20], "range": [519, 937.3], "nice": false}}, "y": {"datum": 51, "type": "quantitative", "axis": null}, "text": {"field": "l"}}},
  {"data": {"name": "fhead"}, "transform": [{"filter": "datum.p=='C'"}], "mark": {"type": "text", "align": "center", "fontWeight": "bold"}, "encoding": {"x": {"datum": 1, "type": "quantitative", "axis": null, "scale": {"type": "log", "domain": [0.05, 20], "range": [519, 937.3], "nice": false}}, "y": {"field": "r", "type": "quantitative", "axis": null}, "text": {"field": "t"}}}
 ]}
]
},
{
"width": 955, "height": 340,
"resolve": {"scale": {"x": "independent"}},
"layer": [
{"data": {"name": "cells"}, "transform": [{"filter": "datum.p=='D'"}],
 "encoding": {"x": {"field": "c", "type": "quantitative", "axis": null, "scale": {"domain": [-1,0,1,2,3,4,5,6,7,8,9,10,11], "range": [4,16.7,249.3,255,301,358.3,360,411,470.7,541.7,610,616.7,952], "zero": false, "nice": false}}, "y": {"field": "r", "type": "quantitative", "axis": null, "scale": {"domain": [-2,-1,0,1,8,10,11,12,13,50,51], "range": [35.3,57.7,76.3,97,231.3,268.7,289.3,308.7,327,302,317], "zero": false, "nice": false}}, "text": {"field": "t"}},
 "layer": [
  {"transform": [{"filter": "datum.s=='letter'"}], "mark": {"type": "text", "align": "left", "fontWeight": "bold", "fontSize": 19}},
  {"transform": [{"filter": "datum.c==0 && (datum.s=='d' || datum.s=='f')"}], "mark": {"type": "text", "align": "left"}},
  {"transform": [{"filter": "datum.c==0 && (datum.s=='h' || datum.s=='t')"}], "mark": {"type": "text", "align": "left", "fontWeight": "bold"}},
  {"transform": [{"filter": "datum.c>0 && datum.c!=1 && datum.c!=4 && datum.c!=8 && (datum.s=='d' || datum.s=='f')"}], "mark": {"type": "text", "align": "right"}},
  {"transform": [{"filter": "datum.c>0 && datum.c!=1 && datum.c!=4 && datum.c!=8 && (datum.s=='h' || datum.s=='t')"}], "mark": {"type": "text", "align": "right", "fontWeight": "bold"}},
  {"transform": [{"filter": "datum.c==1 || datum.c==4 || datum.c==8"}], "mark": {"type": "text", "align": "center", "fontWeight": "bold"}}
 ]},
{"data": {"values": [{}]}, "mark": {"type": "rule", "strokeWidth": 1.6}, "encoding": {"x": {"datum": -1, "type": "quantitative", "axis": null, "scale": {"domain": [-1,0,1,2,3,4,5,6,7,8,9,10,11], "range": [4,16.7,249.3,255,301,358.3,360,411,470.7,541.7,610,616.7,952], "zero": false, "nice": false}}, "x2": {"datum": 11}, "y": {"datum": 0.28, "type": "quantitative", "axis": null}}},
{"layer": [
  {"data": {"values": [{}]}, "mark": {"type": "rule", "strokeWidth": 1.6}, "encoding": {"x": {"datum": 1, "type": "quantitative", "axis": null, "scale": {"type": "log", "domain": [0.05, 20], "range": [621.7, 936.7], "nice": false}}, "y": {"datum": 0.28, "type": "quantitative", "axis": null}, "y2": {"datum": 50}}},
  {"data": {"name": "studies"}, "transform": [{"filter": "datum.p=='D'"}], "mark": {"type": "rule", "strokeWidth": 1.4}, "encoding": {"x": {"field": "lo", "type": "quantitative", "axis": null, "scale": {"type": "log", "domain": [0.05, 20], "range": [621.7, 936.7], "nice": false}}, "x2": {"field": "hi"}, "y": {"field": "r", "type": "quantitative", "axis": null}}},
  {"data": {"name": "studies"}, "transform": [{"filter": "datum.p=='D'"}], "mark": {"type": "point", "shape": "square", "filled": true, "opacity": 1, "color": "#0000cc"}, "encoding": {"x": {"field": "or", "type": "quantitative", "axis": null, "scale": {"type": "log", "domain": [0.05, 20], "range": [621.7, 936.7], "nice": false}}, "y": {"field": "r", "type": "quantitative", "axis": null}, "size": {"field": "w", "type": "quantitative", "legend": null, "scale": {"type": "pow", "exponent": 1.3, "domain": [0, 100], "range": [6, 333]}}}},
  {"data": {"name": "totals"}, "transform": [{"filter": "datum.p=='D'"}, {"fold": ["lo", "or", "hi"]}, {"calculate": "datum.r - (datum.key=='or' ? 0.42 : 0)", "as": "ya"}, {"calculate": "datum.r + (datum.key=='or' ? 0.42 : 0)", "as": "yb"}], "mark": {"type": "area", "opacity": 1}, "encoding": {"x": {"field": "value", "type": "quantitative", "axis": null, "scale": {"type": "log", "domain": [0.05, 20], "range": [621.7, 936.7], "nice": false}}, "y": {"field": "ya", "type": "quantitative", "axis": null}, "y2": {"field": "yb"}}},
  {"data": {"values": [{}]}, "mark": {"type": "rule", "strokeWidth": 1.6}, "encoding": {"x": {"datum": 0.05, "type": "quantitative", "axis": null, "scale": {"type": "log", "domain": [0.05, 20], "range": [621.7, 936.7], "nice": false}}, "x2": {"datum": 20}, "y": {"datum": 50, "type": "quantitative", "axis": null}}},
  {"data": {"name": "ticks"}, "mark": {"type": "tick", "orient": "vertical", "size": 11, "thickness": 1.6, "opacity": 1}, "encoding": {"x": {"field": "v", "type": "quantitative", "axis": null, "scale": {"type": "log", "domain": [0.05, 20], "range": [621.7, 936.7], "nice": false}}, "y": {"datum": 50, "type": "quantitative", "axis": null}}},
  {"data": {"name": "ticks"}, "transform": [{"filter": "datum.v==0.05"}], "mark": {"type": "text", "align": "left"}, "encoding": {"x": {"field": "v", "type": "quantitative", "axis": null, "scale": {"type": "log", "domain": [0.05, 20], "range": [621.7, 936.7], "nice": false}}, "y": {"datum": 51, "type": "quantitative", "axis": null}, "text": {"field": "l"}}},
  {"data": {"name": "ticks"}, "transform": [{"filter": "datum.v>0.05 && datum.v<20"}], "mark": {"type": "text", "align": "center"}, "encoding": {"x": {"field": "v", "type": "quantitative", "axis": null, "scale": {"type": "log", "domain": [0.05, 20], "range": [621.7, 936.7], "nice": false}}, "y": {"datum": 51, "type": "quantitative", "axis": null}, "text": {"field": "l"}}},
  {"data": {"name": "ticks"}, "transform": [{"filter": "datum.v==20"}], "mark": {"type": "text", "align": "right"}, "encoding": {"x": {"field": "v", "type": "quantitative", "axis": null, "scale": {"type": "log", "domain": [0.05, 20], "range": [621.7, 936.7], "nice": false}}, "y": {"datum": 51, "type": "quantitative", "axis": null}, "text": {"field": "l"}}},
  {"data": {"name": "fhead"}, "transform": [{"filter": "datum.p=='D'"}], "mark": {"type": "text", "align": "center", "fontWeight": "bold"}, "encoding": {"x": {"datum": 1, "type": "quantitative", "axis": null, "scale": {"type": "log", "domain": [0.05, 20], "range": [621.7, 936.7], "nice": false}}, "y": {"field": "r", "type": "quantitative", "axis": null}, "text": {"field": "t"}}}
 ]}
]
},
{
"width": 955, "height": 280,
"resolve": {"scale": {"x": "independent"}},
"layer": [
{"data": {"name": "cells"}, "transform": [{"filter": "datum.p=='E'"}],
 "encoding": {"x": {"field": "c", "type": "quantitative", "axis": null, "scale": {"domain": [-1,0,1,2,3,4,5,6,7,8,9,10,11], "range": [4,16.7,216.7,223.3,270,330,331.7,383.3,445.7,519.3,589.3,596.7,952], "zero": false, "nice": false}}, "y": {"field": "r", "type": "quantitative", "axis": null, "scale": {"domain": [-2,-1,0,1,4,6,7,8,9,50,51], "range": [49.3,70.3,89.7,111,170.3,208.7,229.3,250.3,269.7,244.7,259.3], "zero": false, "nice": false}}, "text": {"field": "t"}},
 "layer": [
  {"transform": [{"filter": "datum.s=='letter'"}], "mark": {"type": "text", "align": "left", "fontWeight": "bold", "fontSize": 19}},
  {"transform": [{"filter": "datum.c==0 && (datum.s=='d' || datum.s=='f')"}], "mark": {"type": "text", "align": "left"}},
  {"transform": [{"filter": "datum.c==0 && (datum.s=='h' || datum.s=='t')"}], "mark": {"type": "text", "align": "left", "fontWeight": "bold"}},
  {"transform": [{"filter": "datum.c>0 && datum.c!=1 && datum.c!=4 && datum.c!=8 && (datum.s=='d' || datum.s=='f')"}], "mark": {"type": "text", "align": "right"}},
  {"transform": [{"filter": "datum.c>0 && datum.c!=1 && datum.c!=4 && datum.c!=8 && (datum.s=='h' || datum.s=='t')"}], "mark": {"type": "text", "align": "right", "fontWeight": "bold"}},
  {"transform": [{"filter": "datum.c==1 || datum.c==4 || datum.c==8"}], "mark": {"type": "text", "align": "center", "fontWeight": "bold"}}
 ]},
{"data": {"values": [{}]}, "mark": {"type": "rule", "strokeWidth": 1.6}, "encoding": {"x": {"datum": -1, "type": "quantitative", "axis": null, "scale": {"domain": [-1,0,1,2,3,4,5,6,7,8,9,10,11], "range": [4,16.7,216.7,223.3,270,330,331.7,383.3,445.7,519.3,589.3,596.7,952], "zero": false, "nice": false}}, "x2": {"datum": 11}, "y": {"datum": 0.28, "type": "quantitative", "axis": null}}},
{"layer": [
  {"data": {"values": [{}]}, "mark": {"type": "rule", "strokeWidth": 1.6}, "encoding": {"x": {"datum": 1, "type": "quantitative", "axis": null, "scale": {"type": "log", "domain": [0.05, 20], "range": [602.3, 936.7], "nice": false}}, "y": {"datum": 0.28, "type": "quantitative", "axis": null}, "y2": {"datum": 50}}},
  {"data": {"name": "studies"}, "transform": [{"filter": "datum.p=='E'"}], "mark": {"type": "rule", "strokeWidth": 1.4}, "encoding": {"x": {"field": "lo", "type": "quantitative", "axis": null, "scale": {"type": "log", "domain": [0.05, 20], "range": [602.3, 936.7], "nice": false}}, "x2": {"field": "hi"}, "y": {"field": "r", "type": "quantitative", "axis": null}}},
  {"data": {"name": "studies"}, "transform": [{"filter": "datum.p=='E'"}], "mark": {"type": "point", "shape": "square", "filled": true, "opacity": 1, "color": "#0000cc"}, "encoding": {"x": {"field": "or", "type": "quantitative", "axis": null, "scale": {"type": "log", "domain": [0.05, 20], "range": [602.3, 936.7], "nice": false}}, "y": {"field": "r", "type": "quantitative", "axis": null}, "size": {"field": "w", "type": "quantitative", "legend": null, "scale": {"type": "pow", "exponent": 1.3, "domain": [0, 100], "range": [6, 428]}}}},
  {"data": {"name": "totals"}, "transform": [{"filter": "datum.p=='E'"}, {"fold": ["lo", "or", "hi"]}, {"calculate": "datum.r - (datum.key=='or' ? 0.42 : 0)", "as": "ya"}, {"calculate": "datum.r + (datum.key=='or' ? 0.42 : 0)", "as": "yb"}], "mark": {"type": "area", "opacity": 1}, "encoding": {"x": {"field": "value", "type": "quantitative", "axis": null, "scale": {"type": "log", "domain": [0.05, 20], "range": [602.3, 936.7], "nice": false}}, "y": {"field": "ya", "type": "quantitative", "axis": null}, "y2": {"field": "yb"}}},
  {"data": {"values": [{}]}, "mark": {"type": "rule", "strokeWidth": 1.6}, "encoding": {"x": {"datum": 0.05, "type": "quantitative", "axis": null, "scale": {"type": "log", "domain": [0.05, 20], "range": [602.3, 936.7], "nice": false}}, "x2": {"datum": 20}, "y": {"datum": 50, "type": "quantitative", "axis": null}}},
  {"data": {"name": "ticks"}, "mark": {"type": "tick", "orient": "vertical", "size": 11, "thickness": 1.6, "opacity": 1}, "encoding": {"x": {"field": "v", "type": "quantitative", "axis": null, "scale": {"type": "log", "domain": [0.05, 20], "range": [602.3, 936.7], "nice": false}}, "y": {"datum": 50, "type": "quantitative", "axis": null}}},
  {"data": {"name": "ticks"}, "transform": [{"filter": "datum.v==0.05"}], "mark": {"type": "text", "align": "left"}, "encoding": {"x": {"field": "v", "type": "quantitative", "axis": null, "scale": {"type": "log", "domain": [0.05, 20], "range": [602.3, 936.7], "nice": false}}, "y": {"datum": 51, "type": "quantitative", "axis": null}, "text": {"field": "l"}}},
  {"data": {"name": "ticks"}, "transform": [{"filter": "datum.v>0.05 && datum.v<20"}], "mark": {"type": "text", "align": "center"}, "encoding": {"x": {"field": "v", "type": "quantitative", "axis": null, "scale": {"type": "log", "domain": [0.05, 20], "range": [602.3, 936.7], "nice": false}}, "y": {"datum": 51, "type": "quantitative", "axis": null}, "text": {"field": "l"}}},
  {"data": {"name": "ticks"}, "transform": [{"filter": "datum.v==20"}], "mark": {"type": "text", "align": "right"}, "encoding": {"x": {"field": "v", "type": "quantitative", "axis": null, "scale": {"type": "log", "domain": [0.05, 20], "range": [602.3, 936.7], "nice": false}}, "y": {"datum": 51, "type": "quantitative", "axis": null}, "text": {"field": "l"}}},
  {"data": {"name": "fhead"}, "transform": [{"filter": "datum.p=='E'"}], "mark": {"type": "text", "align": "center", "fontWeight": "bold"}, "encoding": {"x": {"datum": 1, "type": "quantitative", "axis": null, "scale": {"type": "log", "domain": [0.05, 20], "range": [602.3, 936.7], "nice": false}}, "y": {"field": "r", "type": "quantitative", "axis": null}, "text": {"field": "t"}}}
 ]}
]
},
{
"width": 955, "height": 239,
"resolve": {"scale": {"x": "independent"}},
"layer": [
{"data": {"name": "cells"}, "transform": [{"filter": "datum.p=='F'"}],
 "encoding": {"x": {"field": "c", "type": "quantitative", "axis": null, "scale": {"domain": [-1,0,1,2,3,4,5,6,7,8,9,10,11], "range": [4,16.7,208.3,214.3,259.3,316,318.3,368.3,427.7,498.7,566.7,573.3,952], "zero": false, "nice": false}}, "y": {"field": "r", "type": "quantitative", "axis": null, "scale": {"domain": [-2,-1,0,1,3,5,6,7,8,50,51], "range": [33.7,54.3,73,93.7,132,168.7,189.3,208.7,227,202.7,217.7], "zero": false, "nice": false}}, "text": {"field": "t"}},
 "layer": [
  {"transform": [{"filter": "datum.s=='letter'"}], "mark": {"type": "text", "align": "left", "fontWeight": "bold", "fontSize": 19}},
  {"transform": [{"filter": "datum.c==0 && (datum.s=='d' || datum.s=='f')"}], "mark": {"type": "text", "align": "left"}},
  {"transform": [{"filter": "datum.c==0 && (datum.s=='h' || datum.s=='t')"}], "mark": {"type": "text", "align": "left", "fontWeight": "bold"}},
  {"transform": [{"filter": "datum.c>0 && datum.c!=1 && datum.c!=4 && datum.c!=8 && (datum.s=='d' || datum.s=='f')"}], "mark": {"type": "text", "align": "right"}},
  {"transform": [{"filter": "datum.c>0 && datum.c!=1 && datum.c!=4 && datum.c!=8 && (datum.s=='h' || datum.s=='t')"}], "mark": {"type": "text", "align": "right", "fontWeight": "bold"}},
  {"transform": [{"filter": "datum.c==1 || datum.c==4 || datum.c==8"}], "mark": {"type": "text", "align": "center", "fontWeight": "bold"}}
 ]},
{"data": {"values": [{}]}, "mark": {"type": "rule", "strokeWidth": 1.6}, "encoding": {"x": {"datum": -1, "type": "quantitative", "axis": null, "scale": {"domain": [-1,0,1,2,3,4,5,6,7,8,9,10,11], "range": [4,16.7,208.3,214.3,259.3,316,318.3,368.3,427.7,498.7,566.7,573.3,952], "zero": false, "nice": false}}, "x2": {"datum": 11}, "y": {"datum": 0.28, "type": "quantitative", "axis": null}}},
{"layer": [
  {"data": {"values": [{}]}, "mark": {"type": "rule", "strokeWidth": 1.6}, "encoding": {"x": {"datum": 1, "type": "quantitative", "axis": null, "scale": {"type": "log", "domain": [0.05, 20], "range": [578.3, 936.7], "nice": false}}, "y": {"datum": 0.28, "type": "quantitative", "axis": null}, "y2": {"datum": 50}}},
  {"data": {"name": "studies"}, "transform": [{"filter": "datum.p=='F'"}], "mark": {"type": "rule", "strokeWidth": 1.4}, "encoding": {"x": {"field": "lo", "type": "quantitative", "axis": null, "scale": {"type": "log", "domain": [0.05, 20], "range": [578.3, 936.7], "nice": false}}, "x2": {"field": "hi"}, "y": {"field": "r", "type": "quantitative", "axis": null}}},
  {"data": {"name": "studies"}, "transform": [{"filter": "datum.p=='F'"}], "mark": {"type": "point", "shape": "square", "filled": true, "opacity": 1, "color": "#0000cc"}, "encoding": {"x": {"field": "or", "type": "quantitative", "axis": null, "scale": {"type": "log", "domain": [0.05, 20], "range": [578.3, 936.7], "nice": false}}, "y": {"field": "r", "type": "quantitative", "axis": null}, "size": {"field": "w", "type": "quantitative", "legend": null, "scale": {"type": "pow", "exponent": 1.3, "domain": [0, 100], "range": [6, 398]}}}},
  {"data": {"name": "totals"}, "transform": [{"filter": "datum.p=='F'"}, {"fold": ["lo", "or", "hi"]}, {"calculate": "datum.r - (datum.key=='or' ? 0.42 : 0)", "as": "ya"}, {"calculate": "datum.r + (datum.key=='or' ? 0.42 : 0)", "as": "yb"}], "mark": {"type": "area", "opacity": 1}, "encoding": {"x": {"field": "value", "type": "quantitative", "axis": null, "scale": {"type": "log", "domain": [0.05, 20], "range": [578.3, 936.7], "nice": false}}, "y": {"field": "ya", "type": "quantitative", "axis": null}, "y2": {"field": "yb"}}},
  {"data": {"values": [{}]}, "mark": {"type": "rule", "strokeWidth": 1.6}, "encoding": {"x": {"datum": 0.05, "type": "quantitative", "axis": null, "scale": {"type": "log", "domain": [0.05, 20], "range": [578.3, 936.7], "nice": false}}, "x2": {"datum": 20}, "y": {"datum": 50, "type": "quantitative", "axis": null}}},
  {"data": {"name": "ticks"}, "mark": {"type": "tick", "orient": "vertical", "size": 11, "thickness": 1.6, "opacity": 1}, "encoding": {"x": {"field": "v", "type": "quantitative", "axis": null, "scale": {"type": "log", "domain": [0.05, 20], "range": [578.3, 936.7], "nice": false}}, "y": {"datum": 50, "type": "quantitative", "axis": null}}},
  {"data": {"name": "ticks"}, "transform": [{"filter": "datum.v==0.05"}], "mark": {"type": "text", "align": "left"}, "encoding": {"x": {"field": "v", "type": "quantitative", "axis": null, "scale": {"type": "log", "domain": [0.05, 20], "range": [578.3, 936.7], "nice": false}}, "y": {"datum": 51, "type": "quantitative", "axis": null}, "text": {"field": "l"}}},
  {"data": {"name": "ticks"}, "transform": [{"filter": "datum.v>0.05 && datum.v<20"}], "mark": {"type": "text", "align": "center"}, "encoding": {"x": {"field": "v", "type": "quantitative", "axis": null, "scale": {"type": "log", "domain": [0.05, 20], "range": [578.3, 936.7], "nice": false}}, "y": {"datum": 51, "type": "quantitative", "axis": null}, "text": {"field": "l"}}},
  {"data": {"name": "ticks"}, "transform": [{"filter": "datum.v==20"}], "mark": {"type": "text", "align": "right"}, "encoding": {"x": {"field": "v", "type": "quantitative", "axis": null, "scale": {"type": "log", "domain": [0.05, 20], "range": [578.3, 936.7], "nice": false}}, "y": {"datum": 51, "type": "quantitative", "axis": null}, "text": {"field": "l"}}},
  {"data": {"name": "fhead"}, "transform": [{"filter": "datum.p=='F'"}], "mark": {"type": "text", "align": "center", "fontWeight": "bold"}, "encoding": {"x": {"datum": 1, "type": "quantitative", "axis": null, "scale": {"type": "log", "domain": [0.05, 20], "range": [578.3, 936.7], "nice": false}}, "y": {"field": "r", "type": "quantitative", "axis": null}, "text": {"field": "t"}}}
 ]}
]
}
]
}
